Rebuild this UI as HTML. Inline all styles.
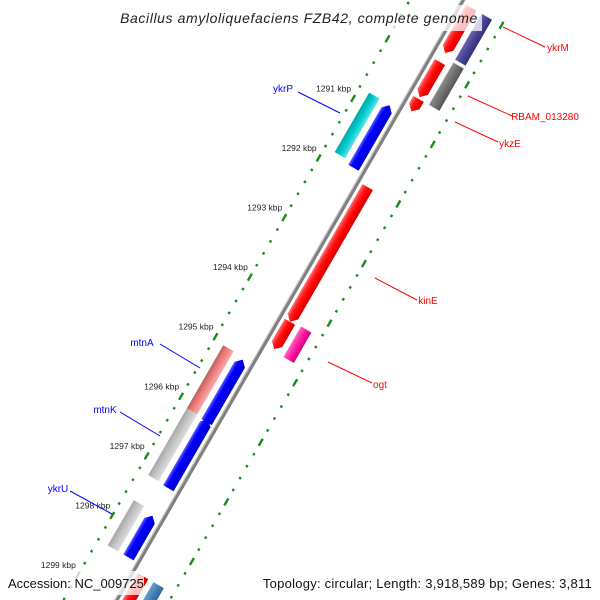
<!DOCTYPE html>
<html><head><meta charset="utf-8"><style>
html,body{margin:0;padding:0;background:#fff;width:600px;height:600px;overflow:hidden;}
svg{display:block;overflow:hidden;font-family:"Liberation Sans","DejaVu Sans",sans-serif;}
</style></head><body>
<svg id="map" width="600" height="600" viewBox="0 0 600 600">
<defs>
<clipPath id="frame"><rect x="0" y="0" width="600" height="600"/></clipPath>
<linearGradient id="gRed" x1="0" x2="1" y1="0" y2="0"><stop offset="0" stop-color="#ff7070"/><stop offset="0.3" stop-color="#ff2020"/><stop offset="0.6" stop-color="#ff0000"/><stop offset="1" stop-color="#d00000"/></linearGradient>
<linearGradient id="gBlue" x1="0" x2="1"><stop offset="0" stop-color="#6060ff"/><stop offset="0.3" stop-color="#0000ff"/><stop offset="1" stop-color="#0000d0"/></linearGradient>
<linearGradient id="gCyan" x1="0" x2="1"><stop offset="0" stop-color="#00aaaa"/><stop offset="0.5" stop-color="#00cccc"/><stop offset="1" stop-color="#60e0e0"/></linearGradient>
<linearGradient id="gPink" x1="0" x2="1"><stop offset="0" stop-color="#c06060"/><stop offset="0.5" stop-color="#f08080"/><stop offset="1" stop-color="#f8a8a8"/></linearGradient>
<linearGradient id="gGrey" x1="0" x2="1"><stop offset="0" stop-color="#a8a8a8"/><stop offset="0.5" stop-color="#c4c4c4"/><stop offset="1" stop-color="#dcdcdc"/></linearGradient>
<linearGradient id="gDark" x1="0" x2="1"><stop offset="0" stop-color="#8a8a8a"/><stop offset="0.5" stop-color="#707070"/><stop offset="1" stop-color="#555"/></linearGradient>
<linearGradient id="gPurple" x1="0" x2="1"><stop offset="0" stop-color="#6a64b0"/><stop offset="0.5" stop-color="#4a4496"/><stop offset="1" stop-color="#363070"/></linearGradient>
<linearGradient id="gMag" x1="0" x2="1"><stop offset="0" stop-color="#ff60c0"/><stop offset="0.5" stop-color="#ff1aa0"/><stop offset="1" stop-color="#d00080"/></linearGradient>
<linearGradient id="gSteel" x1="0" x2="1"><stop offset="0" stop-color="#6a9ccc"/><stop offset="0.5" stop-color="#4682b4"/><stop offset="1" stop-color="#336699"/></linearGradient>
</defs>
<g clip-path="url(#frame)">
<g id="rot" transform="translate(463,0) rotate(30)">
<line x1="0" y1="-60" x2="0" y2="720" stroke="#808080" stroke-width="4"/>
<line x1="-1.5" y1="-60" x2="-1.5" y2="720" stroke="#c8c8c8" stroke-width="1"/>
</g>
</g>
<g id="labels"></g>
<rect x="116" y="5" width="366" height="26" fill="#fff" opacity="0.75"/>
<text x="299" y="23" text-anchor="middle" font-size="14" letter-spacing="0.6" font-style="italic" fill="#222">Bacillus amyloliquefaciens FZB42, complete genome</text>
<rect x="4" y="571" width="140" height="24" fill="#fff" opacity="0.75"/>
<text x="8" y="588" font-size="13" fill="#111">Accession: NC_009725</text>
<rect x="256" y="571" width="340" height="24" fill="#fff" opacity="0.75"/>
<text x="592" y="588" text-anchor="end" font-size="13" letter-spacing="0.25" fill="#111">Topology: circular; Length: 3,918,589 bp; Genes: 3,811</text>
</svg>
<script>
// feature data (kbp)
const featStart = [1289.0, 1289.0, 1289.91, 1290.53, 1289.82, 1290.81, 1290.82, 1292.01, 1294.27, 1294.25, 1295.05, 1295.09, 1296.11, 1296.09, 1297.65, 1297.71, 1298.54, 1298.54];
const featEnd   = [1289.76, 1289.77, 1290.50, 1290.74, 1290.53, 1291.81, 1291.87, 1294.27, 1294.73, 1294.76, 1296.11, 1296.14, 1297.23, 1297.25, 1298.41, 1298.41, 1299.5, 1299.5];
const featRow   = ['Ri','Ro','Ri','Ri','Ro','Lo','Li','Ri','Ri','Ro','Lo','Li','Lo','Li','Lo','Li','Ri','Ro'];
const featArrow = [1, 0, 1, 1, 0, 0, -1, 1, 1, 0, 0, -1, 0, -1, 0, -1, 1, 0];
const featColor = ['gRed','gPurple','gRed','gRed','gDark','gCyan','gBlue','gRed','gRed','gMag','gPink','gBlue','gGrey','gBlue','gGrey','gBlue','gRed','gSteel'];
const tickLabels = [1291, 1292, 1293, 1294, 1295, 1296, 1297, 1298, 1299];
const geneNames = ['ykrP','mtnA','mtnK','ykrU','ykrM','RBAM_013280','ykzE','kinE','ogt'];
const geneSide  = ['L','L','L','L','R','R','R','R','R'];

const NS='http://www.w3.org/2000/svg';
const REF=1292, REFA=209, PXK=68.8, OX=463;
function along(k){return REFA+(k-REF)*PXK;}
function P(k,off){const a=along(k);return [OX-0.5*a+0.866*off, 0.866*a+0.5*off];}
const rows={Li:[-17,-5],Lo:[-35,-23],Ri:[5,17],Ro:[23,35]};
const RING=46;
const rot=document.getElementById('rot');
const lab=document.getElementById('labels');

// rings
for(let i=0;i<=55;i++){
  const k=1289+i*0.2;
  const major=Math.abs(k-Math.round(k))<0.01;
  [-RING,RING].forEach(o=>{
    const r=document.createElementNS(NS,'rect');
    const len=major?8:2.5;
    r.setAttribute('x',o-1.2);r.setAttribute('y',along(k)-len/2);
    r.setAttribute('width',2.4);r.setAttribute('height',len);
    r.setAttribute('fill','#1a8a1a');
    
    
    rot.appendChild(r);
  });
}
// features
for(let i=0;i<featStart.length;i++){
  const [x0,x1]=rows[featRow[i]];
  const s=along(featStart[i]), e=along(featEnd[i]);
  const xm=(x0+x1)/2, h=6;
  let pts;
  if(featArrow[i]===1) pts=[[x0,s],[x1,s],[x1,e-h],[xm,e],[x0,e-h]];
  else if(featArrow[i]===-1) pts=[[x0,s+h],[xm,s],[x1,s+h],[x1,e],[x0,e]];
  else pts=[[x0,s],[x1,s],[x1,e],[x0,e]];
  const p=document.createElementNS(NS,'polygon');
  p.setAttribute('points',pts.map(q=>q.join(',')).join(' '));
  p.setAttribute('fill','url(#'+featColor[i]+')');
  
  
  rot.appendChild(p);
}
// tick labels
tickLabels.forEach(k=>{
  const [x,y]=P(k,-RING);
  const t=document.createElementNS(NS,'text');
  t.setAttribute('x',x-2);t.setAttribute('y',y-7);
  t.setAttribute('text-anchor','end');t.setAttribute('font-size','8.5');t.setAttribute('fill','#222');
  t.textContent=k+' kbp';
  
  
  lab.appendChild(t);
});
// gene labels (screen placement)
const gl=[[283,92,298,92,340,113],[142,346,160,344,200,368],[105,413,120,412,160,436],[58,492,70,491,112,514],
          [558,51,545,47,503,27],[545,120,512,116,468,96],[510,147,498,142,455,122],[428,304,417,300,375,278],[380,388,372,383,328,362]];
geneNames.forEach((n,i)=>{
  const g=gl[i], left=geneSide[i]==='L', col=left?'#0000ff':'#ff0000';
  const l=document.createElementNS(NS,'line');
  l.setAttribute('x1',g[2]);l.setAttribute('y1',g[3]);l.setAttribute('x2',g[4]);l.setAttribute('y2',g[5]);
  l.setAttribute('stroke',col);l.setAttribute('stroke-width','1');
  
  
  lab.appendChild(l);
  const t=document.createElementNS(NS,'text');
  t.setAttribute('x',g[0]);t.setAttribute('y',g[1]);
  t.setAttribute('text-anchor','middle');
  t.setAttribute('font-size','10');t.setAttribute('fill',col);
  t.textContent=n;
  
  
  lab.appendChild(t);
});
</script>
</body></html>
